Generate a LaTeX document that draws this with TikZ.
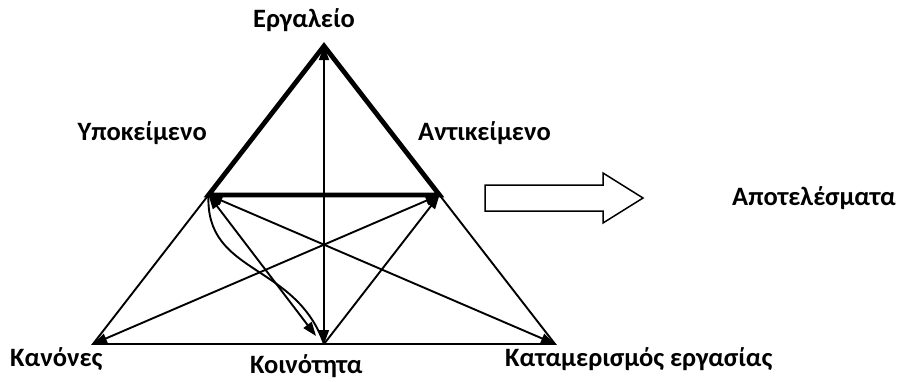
\documentclass[tikz,border=0pt]{standalone}
\usepackage{fontspec}
\setmainfont{Carlito}
\usetikzlibrary{arrows.meta}
\begin{document}
\begin{tikzpicture}[x=1pt,y=-1pt,
  lbl/.style={font=\fontsize{26.5}{30}\selectfont\bfseries, inner sep=0pt},
  edge/.style={line width=1.9pt},
  boldedge/.style={line width=4.8pt, line join=miter},
  hd/.tip={Triangle[length=14pt,width=10pt]},
  blockarrow/.style={line width=1.5pt, fill=white, line join=miter}]
\useasboundingbox (0,0) rectangle (899,381);
\fill[white] (0,0) rectangle (899,381);

\coordinate (A) at (324,46);
\coordinate (S) at (208.5,195);
\coordinate (O) at (439.5,195);
\coordinate (L) at (93,344);
\coordinate (M) at (324,344);
\coordinate (R) at (555,344);
\coordinate (Mc) at (316,336);

% outer triangle (thin part)
\draw[edge] (S) -- (L) -- (R) -- (O);
% bold upper triangle
\draw[boldedge] (A) -- (S) -- (O) -- cycle;
% vertical double arrow
\draw[line width=1.4pt, hd-hd] (A) -- (M);
% inner connectors
\draw[edge, hd-hd] (L) -- (O);
\draw[edge, hd-hd] (S) -- (R);
\draw[edge, hd-hd] (S) -- (Mc);
\draw[edge, hd-] (O) -- (M);
\draw[edge] (S) .. controls (205,275) and (295,262) .. (M);

% block arrow
\draw[blockarrow] (485,185) -- (603,185) -- (603,173) -- (643,198) -- (603,223) -- (603,211) -- (485,211) -- cycle;

% labels
\node[lbl, anchor=base west] (tool) at (253,27) {Εργαλείο};
\node[lbl, anchor=base east] (subj) at (207,140) {Υποκείμενο};
\node[lbl, anchor=base west] (obj) at (418,140) {Αντικείμενο};
\node[lbl, anchor=base west] (out) at (732,205) {Αποτελέσματα};
\node[lbl, anchor=base west] (rules) at (10,366) {Κανόνες};
\node[lbl, anchor=base west] (comm) at (250,373) {Κοινότητα};
\node[lbl, anchor=base west] (div) at (505,366) {Καταμερισμός εργασίας};
\end{tikzpicture}
\end{document}
